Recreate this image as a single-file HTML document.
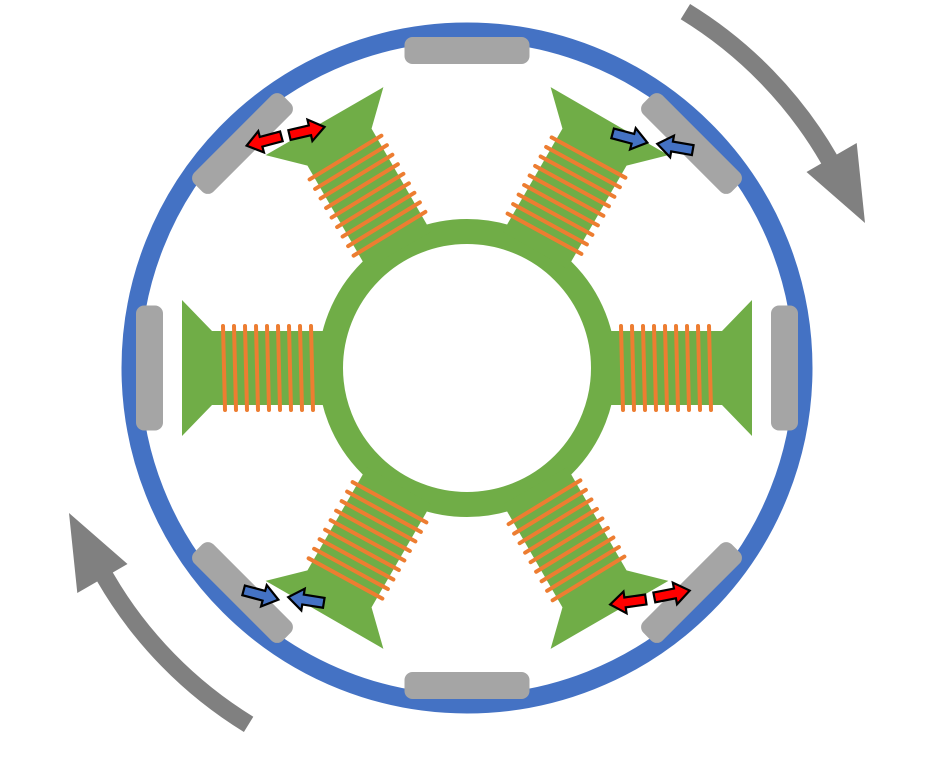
<!DOCTYPE html>
<html><head><meta charset="utf-8"><style>html,body{margin:0;padding:0;background:#fff}svg{display:block}</style></head>
<body>
<svg width="929" height="758" viewBox="0 0 929 758" xmlns="http://www.w3.org/2000/svg">
<defs>
<g id="pole">
  <polygon points="603,331 722,331 752,300 752,436 722,405 603,405" fill="#70ad47"/>
  <g stroke="#ed7d31" stroke-width="4" stroke-linecap="round" fill="none">
    <line x1="621" y1="326" x2="623" y2="410"/>
    <line x1="632" y1="326" x2="634" y2="410"/>
    <line x1="643" y1="326" x2="645" y2="410"/>
    <line x1="654" y1="326" x2="656" y2="410"/>
    <line x1="665" y1="326" x2="667" y2="410"/>
    <line x1="676" y1="326" x2="678" y2="410"/>
    <line x1="687" y1="326" x2="689" y2="410"/>
    <line x1="698" y1="326" x2="700" y2="410"/>
    <line x1="709" y1="326" x2="711" y2="410"/>
  </g>
</g>
<g id="mag"><rect x="771" y="305.5" width="27" height="125" rx="8" fill="#a5a5a5"/></g>
<path id="arr" d="M-18,-5 L3,-5 L3,-11 L18,0 L3,11 L3,5 L-18,5 Z" stroke="#000" stroke-width="2.2" stroke-linejoin="miter"/>
<path id="garr" d="M690.1,4 A427,427 0 0 1 836.8,154.5 L856.7,143 L865,223 L806.5,172 L821.2,163.5 A409,409 0 0 0 680.7,19.3 Z" fill="#808080"/>
</defs>
<use href="#garr"/>
<use href="#garr" transform="rotate(180 467 368)"/>
<circle cx="467" cy="368" r="336" fill="none" stroke="#4472c4" stroke-width="19"/>
<use href="#mag"/>
<use href="#mag" transform="rotate(45 467 368)"/>
<use href="#mag" transform="rotate(90 467 368)"/>
<use href="#mag" transform="rotate(135 467 368)"/>
<use href="#mag" transform="rotate(180 467 368)"/>
<use href="#mag" transform="rotate(225 467 368)"/>
<use href="#mag" transform="rotate(270 467 368)"/>
<use href="#mag" transform="rotate(315 467 368)"/>
<circle cx="467" cy="368" r="136.5" fill="none" stroke="#70ad47" stroke-width="25"/>
<use href="#pole"/>
<use href="#pole" transform="rotate(60 467 368)"/>
<use href="#pole" transform="rotate(120 467 368)"/>
<use href="#pole" transform="rotate(180 467 368)"/>
<use href="#pole" transform="rotate(240 467 368)"/>
<use href="#pole" transform="rotate(300 467 368)"/>
<g fill="#ff0000">
  <use href="#arr" transform="translate(264 141) rotate(165)"/>
  <use href="#arr" transform="translate(307 131) rotate(-13)"/>
  <use href="#arr" transform="translate(628 602) rotate(172)"/>
  <use href="#arr" transform="translate(672 594) rotate(-11)"/>
</g>
<g fill="#4472c4">
  <use href="#arr" transform="translate(630 138) rotate(15)"/>
  <use href="#arr" transform="translate(675 147) rotate(190)"/>
  <use href="#arr" transform="translate(261 595) rotate(15)"/>
  <use href="#arr" transform="translate(306 600) rotate(189)"/>
</g>
</svg>
</body></html>
